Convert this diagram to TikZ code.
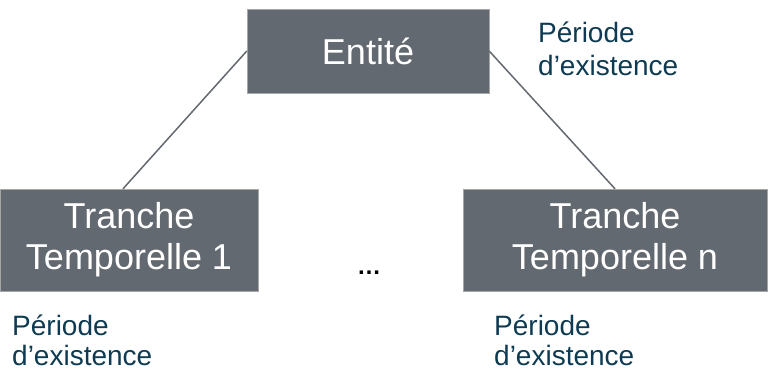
\documentclass[tikz,border=0pt]{standalone}
\usepackage{fontspec}
\setmainfont{Liberation Sans}
\usetikzlibrary{positioning}
\definecolor{slategray}{HTML}{636970}
\definecolor{periodblue}{HTML}{0E3A52}

\begin{document}
\begin{tikzpicture}[x=1pt, y=-1pt,
        slate/.style={rectangle, draw=gray!70, fill=slategray, text=white, align=center, inner sep=0pt, font=\fontsize{36}{41}\selectfont},
        period/.style={text=periodblue, align=left, anchor=north west, inner sep=0pt, font=\fontsize{28}{32}\selectfont},
        link/.style={draw=slategray, line width=1.5pt}
    ]
    \useasboundingbox (0,0) rectangle (769,373);

    % Entity
    \node[slate, minimum width=242pt, minimum height=84pt] (E) at (368,51) {Entité};
    \node[period, font=\fontsize{28}{33}\selectfont] (PE) at (538,22) {Période\\d’existence};

    % Time slices
    \node[slate, minimum width=258pt, minimum height=102pt] (T1) at (129,240) {Tranche\\Temporelle 1};
    \node[slate, minimum width=304pt, minimum height=102pt] (Tn) at (615,240) {Tranche\\Temporelle n};
    \node[font=\bfseries\fontsize{24}{24}\selectfont] (dots) at (369,273) {…};
    \node[period, font=\fontsize{28}{30}\selectfont] (P1) at (12,315) {Période\\d’existence};
    \node[period, font=\fontsize{28}{30}\selectfont] (Pn) at (494,315) {Période\\d’existence};

    \draw[link] (E.west) -- ([xshift=-6pt]T1.north);
    \draw[link] (E.east) -- (Tn.north);

\end{tikzpicture}
\end{document}
